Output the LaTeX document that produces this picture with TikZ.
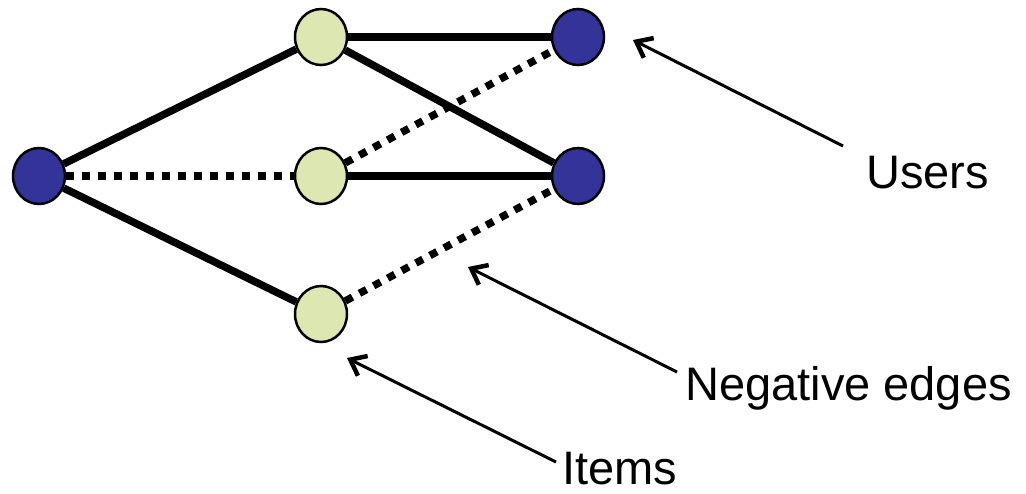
\documentclass[tikz,border=0pt]{standalone}
\usepackage{fontspec}
\setmainfont{Liberation Sans}
\usetikzlibrary{shapes.geometric,arrows.meta}
\definecolor{userblue}{RGB}{51,51,153}
\definecolor{itemgreen}{RGB}{220,231,178}
\tikzset{
  vert/.style={ellipse,draw=black,line width=2.5pt,minimum width=52pt,minimum height=56pt,inner sep=0pt},
  user/.style={vert,fill=userblue},
  item/.style={vert,fill=itemgreen},
  posedge/.style={line width=7.5pt},
  negedge/.style={line width=7.5pt,dash pattern=on 8pt off 8pt},
  lbl/.style={anchor=base west,inner sep=0pt,font=\fontsize{47}{53}\selectfont},
  pointer/.style={line width=3pt,-{Straight Barb[length=14pt,width=22pt,line width=4.5pt]}}
}
\begin{document}
\begin{tikzpicture}[x=1pt,y=-1pt]
\useasboundingbox (0,0) rectangle (1026,493);
\node[user] (u0) at (39,176) {};
\node[item] (i1) at (321,37) {};
\node[item] (i2) at (321,176) {};
\node[item] (i3) at (321,314) {};
\node[user] (u1) at (578,37) {};
\node[user] (u2) at (578,176) {};
\draw[posedge] (u0) -- (i1);
\draw[negedge] (u0) -- (i2);
\draw[posedge] (u0) -- (i3);
\draw[posedge] (i1) -- (u1);
\draw[posedge] (i1) -- (u2);
\draw[negedge] (i2) -- (u1);
\draw[posedge] (i2) -- (u2);
\draw[negedge] (i3) -- (u2);
\node[lbl] (tu) at (866,188) {Users};
\node[lbl] (tn) at (685,400) {Negative edges};
\node[lbl] (ti) at (562,484) {Items};
\coordinate (su) at (843,146);
\coordinate (sn) at (677,372);
\coordinate (si) at (556,462);
\coordinate (au) at (633,40);
\coordinate (an) at (468,267);
\coordinate (ai) at (347,358);
\draw[pointer] (su) -- (au);
\draw[pointer] (sn) -- (an);
\draw[pointer] (si) -- (ai);
\end{tikzpicture}
\end{document}
